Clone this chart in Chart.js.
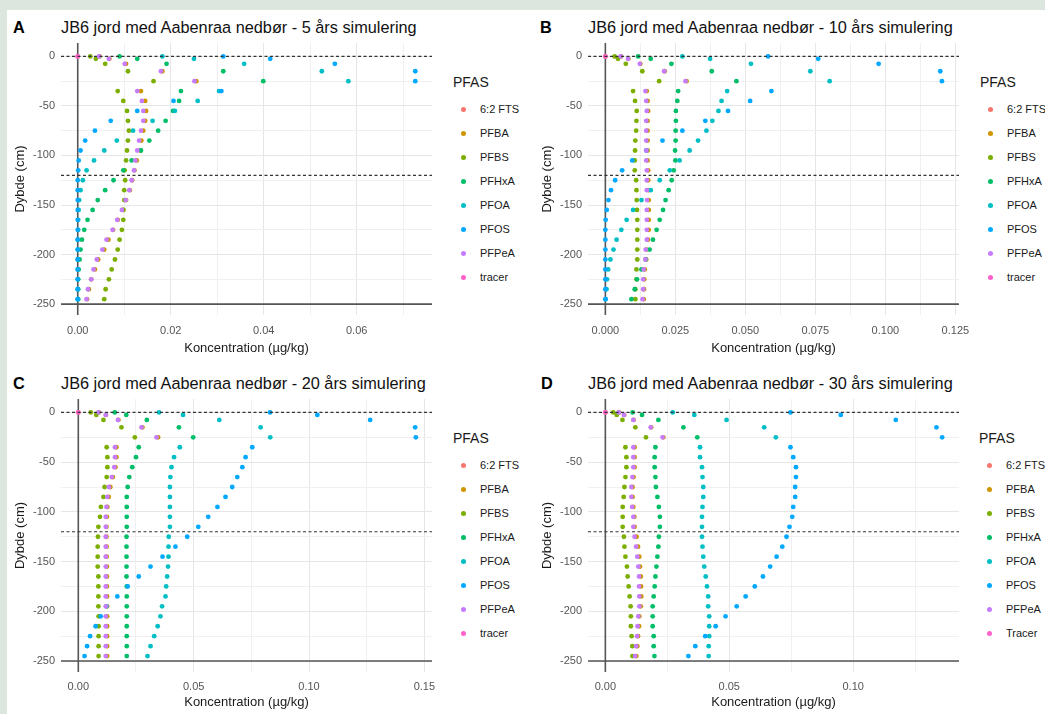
<!DOCTYPE html>
<html>
<head>
<meta charset="utf-8">
<script src="https://cdn.jsdelivr.net/npm/chart.js@4.4.1/dist/chart.umd.min.js"></script>
<style>
html, body { margin: 0; padding: 0; overflow: hidden; }
body { width: 1045px; height: 714px; background: #dde6de; font-family: 'Liberation Sans', Arial, sans-serif; position: relative; }
#page { position: absolute; left: 7px; top: 10px; width: 1038px; height: 704px; background: #fff; }
.abs { position: absolute; white-space: nowrap; }
canvas { position: absolute; }
.letter { font-size: 16.3px; font-weight: bold; color: #000; line-height: 18px; }
.title { font-size: 16.3px; color: #111; line-height: 18px; }
.leg-title { font-size: 14px; color: #1a1a1a; line-height: 16px; }
.leg-item { font-size: 11px; color: #1a1a1a; line-height: 14px; }
.leg-dot { width: 5px; height: 5px; border-radius: 50%; }
</style>
</head>
<body>
<div id="page"></div>
<script>
// Depth of each simulated layer (cm)
const depths = [0, -2.5, -7.5, -15, -25, -35, -45, -55, -65, -75, -85, -95, -105, -115, -125,
    -135, -145, -155, -165, -175, -185, -195, -205, -215, -225, -235, -245];

const seriesNames = ['6:2 FTS', 'PFBA', 'PFBS', 'PFHxA', 'PFOA', 'PFOS', 'PFPeA', 'tracer'];
const seriesNamesD = ['6:2 FTS', 'PFBA', 'PFBS', 'PFHxA', 'PFOA', 'PFOS', 'PFPeA', 'Tracer'];
const colors = ['#F8766D', '#CD9600', '#7CAE00', '#00BE67', '#00BFC4', '#00A9FF', '#C77CFF', '#FF61CC'];

// 6:2 FTS and tracer only show at the surface
const surfaceDepth = [0];
const ftsConc = [0];
const tracerConc = [0];

// 5 years
const pfba5 = [0.0047, 0.0068, 0.0104, 0.0182, 0.0255, 0.0136, 0.0145, 0.0147, 0.0145, 0.0141, 0.0137, 0.0135, 0.0127, 0.0122, 0.0117, 0.0112, 0.0104, 0.0098, 0.0086, 0.0076, 0.0066, 0.0057, 0.0044, 0.0037, 0.0029, 0.0024, 0.0020];
const pfbs5 = [0.0027, 0.0039, 0.0059, 0.0108, 0.0163, 0.0086, 0.0098, 0.0106, 0.0108, 0.0110, 0.0108, 0.0106, 0.0104, 0.0101, 0.0102, 0.0100, 0.0100, 0.0098, 0.0098, 0.0095, 0.0090, 0.0086, 0.0080, 0.0073, 0.0067, 0.0060, 0.0057];
const pfhxa5 = [0.0090, 0.0128, 0.0191, 0.0313, 0.0399, 0.0222, 0.0218, 0.0205, 0.0189, 0.0173, 0.0154, 0.0136, 0.0116, 0.0098, 0.0077, 0.0059, 0.0043, 0.0032, 0.0021, 0.0014, 0.0009, 0.0006, 0.0004, 0.0002, 0.0001, 0.0001, 0.0001];
const pfoa5 = [0.0182, 0.0250, 0.0358, 0.0525, 0.0582, 0.0304, 0.0258, 0.0209, 0.0161, 0.0119, 0.0084, 0.0057, 0.0035, 0.0019, 0.0011, 0.0006, 0.0003, 0.0002, 0.0001, 0.0001, 0, 0, 0, 0, 0, 0, 0];
const pfos5 = [0.0313, 0.0414, 0.0553, 0.0726, 0.0726, 0.0309, 0.0206, 0.0128, 0.0071, 0.0037, 0.0016, 0.0006, 0.0002, 0.0001, 0, 0, 0, 0, 0, 0, 0, 0, 0, 0, 0, 0, 0];
const pfpea5 = [0.0046, 0.0067, 0.0101, 0.0179, 0.0251, 0.0128, 0.0138, 0.0141, 0.0141, 0.0136, 0.0132, 0.0128, 0.0124, 0.0121, 0.0116, 0.0111, 0.0103, 0.0095, 0.0085, 0.0075, 0.0062, 0.0053, 0.0041, 0.0034, 0.0029, 0.0022, 0.0019];

// 10 years
const pfba10 = [0.0056, 0.0082, 0.0125, 0.0212, 0.0290, 0.0148, 0.0151, 0.0153, 0.0151, 0.0151, 0.0151, 0.0151, 0.0151, 0.0153, 0.0153, 0.0154, 0.0155, 0.0155, 0.0155, 0.0155, 0.0152, 0.0147, 0.0146, 0.0141, 0.0139, 0.0138, 0.0137];
const pfbs10 = [0.0033, 0.0045, 0.0073, 0.0132, 0.0192, 0.0099, 0.0106, 0.0112, 0.0111, 0.0110, 0.0107, 0.0106, 0.0105, 0.0105, 0.0110, 0.0111, 0.0112, 0.0113, 0.0114, 0.0114, 0.0114, 0.0114, 0.0114, 0.0111, 0.0111, 0.0107, 0.0107];
const pfhxa10 = [0.0117, 0.0162, 0.0236, 0.0380, 0.0468, 0.0260, 0.0257, 0.0252, 0.0252, 0.0251, 0.0251, 0.0249, 0.0250, 0.0244, 0.0237, 0.0226, 0.0215, 0.0206, 0.0194, 0.0183, 0.0170, 0.0158, 0.0144, 0.0129, 0.0113, 0.0105, 0.0093];
const pfoa10 = [0.0275, 0.0374, 0.0520, 0.0732, 0.0801, 0.0435, 0.0415, 0.0404, 0.0382, 0.0361, 0.0331, 0.0301, 0.0265, 0.0230, 0.0194, 0.0162, 0.0129, 0.0099, 0.0076, 0.0057, 0.0040, 0.0029, 0.0018, 0.0010, 0.0006, 0.0004, 0.0001];
const pfos10 = [0.0581, 0.0760, 0.0976, 0.1196, 0.1202, 0.0593, 0.0517, 0.0438, 0.0357, 0.0275, 0.0204, 0.0146, 0.0096, 0.0060, 0.0035, 0.0020, 0.0011, 0.0005, 0.0001, 0, 0, 0, 0, 0, 0, 0, 0];
const pfpea10 = [0.0055, 0.0081, 0.0123, 0.0210, 0.0286, 0.0143, 0.0146, 0.0148, 0.0146, 0.0146, 0.0146, 0.0146, 0.0146, 0.0148, 0.0148, 0.0148, 0.0149, 0.0148, 0.0148, 0.0148, 0.0148, 0.0144, 0.0143, 0.0137, 0.0135, 0.0135, 0.0133];

// 20 years
const pfba20 = [0.0089, 0.0120, 0.0174, 0.0278, 0.0346, 0.0165, 0.0165, 0.0161, 0.0150, 0.0139, 0.0132, 0.0126, 0.0124, 0.0122, 0.0122, 0.0123, 0.0123, 0.0124, 0.0124, 0.0124, 0.0125, 0.0125, 0.0125, 0.0125, 0.0125, 0.0125, 0.0125];
const pfbs20 = [0.0054, 0.0078, 0.0109, 0.0187, 0.0245, 0.0123, 0.0126, 0.0126, 0.0123, 0.0114, 0.0109, 0.0098, 0.0094, 0.0087, 0.0085, 0.0084, 0.0084, 0.0084, 0.0087, 0.0087, 0.0087, 0.0087, 0.0088, 0.0088, 0.0088, 0.0088, 0.0088];
const pfhxa20 = [0.0158, 0.0208, 0.0297, 0.0436, 0.0498, 0.0262, 0.0250, 0.0234, 0.0221, 0.0214, 0.0210, 0.0210, 0.0210, 0.0210, 0.0209, 0.0209, 0.0209, 0.0209, 0.0209, 0.0210, 0.0210, 0.0210, 0.0210, 0.0210, 0.0210, 0.0210, 0.0210];
const pfoa20 = [0.0350, 0.0454, 0.0611, 0.0790, 0.0832, 0.0440, 0.0415, 0.0404, 0.0399, 0.0397, 0.0397, 0.0397, 0.0397, 0.0397, 0.0392, 0.0391, 0.0391, 0.0389, 0.0385, 0.0381, 0.0378, 0.0363, 0.0356, 0.0344, 0.0329, 0.0313, 0.0300];
const pfos20 = [0.0831, 0.1036, 0.1265, 0.1460, 0.1463, 0.0754, 0.0725, 0.0711, 0.0689, 0.0667, 0.0638, 0.0603, 0.0563, 0.0520, 0.0472, 0.0421, 0.0365, 0.0313, 0.0262, 0.0214, 0.0169, 0.0122, 0.0097, 0.0075, 0.0051, 0.0038, 0.0027];
const pfpea20 = [0.0088, 0.0119, 0.0172, 0.0274, 0.0339, 0.0159, 0.0159, 0.0156, 0.0145, 0.0133, 0.0126, 0.0122, 0.0119, 0.0119, 0.0119, 0.0119, 0.0119, 0.0119, 0.0119, 0.0119, 0.0119, 0.0119, 0.0119, 0.0119, 0.0119, 0.0119, 0.0119];

// 30 years
const pfba30 = [0.0055, 0.0076, 0.0114, 0.0185, 0.0234, 0.0118, 0.0118, 0.0118, 0.0114, 0.0110, 0.0110, 0.0113, 0.0117, 0.0118, 0.0126, 0.0132, 0.0137, 0.0140, 0.0143, 0.0144, 0.0145, 0.0143, 0.0137, 0.0136, 0.0132, 0.0129, 0.0125];
const pfbs30 = [0.0032, 0.0046, 0.0069, 0.0121, 0.0164, 0.0081, 0.0085, 0.0085, 0.0081, 0.0077, 0.0074, 0.0070, 0.0070, 0.0070, 0.0075, 0.0077, 0.0081, 0.0087, 0.0090, 0.0094, 0.0098, 0.0102, 0.0103, 0.0103, 0.0106, 0.0109, 0.0109];
const pfhxa30 = [0.0110, 0.0148, 0.0214, 0.0315, 0.0371, 0.0202, 0.0199, 0.0199, 0.0202, 0.0204, 0.0210, 0.0216, 0.0220, 0.0220, 0.0216, 0.0214, 0.0210, 0.0206, 0.0202, 0.0199, 0.0195, 0.0191, 0.0191, 0.0191, 0.0195, 0.0195, 0.0198];
const pfoa30 = [0.0272, 0.0359, 0.0489, 0.0641, 0.0688, 0.0382, 0.0382, 0.0390, 0.0392, 0.0395, 0.0395, 0.0392, 0.0390, 0.0390, 0.0390, 0.0392, 0.0395, 0.0399, 0.0405, 0.0410, 0.0415, 0.0415, 0.0419, 0.0419, 0.0419, 0.0417, 0.0417];
const pfos30 = [0.0747, 0.0950, 0.1172, 0.1336, 0.1359, 0.0747, 0.0758, 0.0769, 0.0769, 0.0766, 0.0766, 0.0758, 0.0754, 0.0743, 0.0731, 0.0714, 0.0691, 0.0665, 0.0636, 0.0603, 0.0566, 0.0530, 0.0485, 0.0445, 0.0403, 0.0363, 0.0335];
const pfpea30 = [0.0054, 0.0075, 0.0113, 0.0183, 0.0231, 0.0113, 0.0113, 0.0113, 0.0109, 0.0105, 0.0105, 0.0108, 0.0113, 0.0113, 0.0118, 0.0124, 0.0129, 0.0133, 0.0136, 0.0136, 0.0137, 0.0137, 0.0133, 0.0130, 0.0128, 0.0124, 0.0120];

// Reference lines
const dashedDepths = [0, -120];
const bottomDepth = -250;

// Ticks (empty label = minor grid line)
const yTicks = [-250, -225, -200, -175, -150, -125, -100, -75, -50, -25, 0];
const yLabels = ['-250', '', '-200', '', '-150', '', '-100', '', '-50', '', '0'];
const xTicks5 = [0, 0.01, 0.02, 0.03, 0.04, 0.05, 0.06, 0.07];
const xLabels5 = ['0.00', '', '0.02', '', '0.04', '', '0.06', ''];
const xTicks10 = [0, 0.0125, 0.025, 0.0375, 0.05, 0.0625, 0.075, 0.0875, 0.1, 0.1125, 0.125];
const xLabels10 = ['0.000', '', '0.025', '', '0.050', '', '0.075', '', '0.100', '', '0.125'];
const xTicks20 = [0, 0.025, 0.05, 0.075, 0.1, 0.125, 0.15];
const xLabels20 = ['0.00', '', '0.05', '', '0.10', '', '0.15'];
const xTicks30 = [0, 0.025, 0.05, 0.075, 0.1, 0.125];
const xLabels30 = ['0.00', '', '0.05', '', '0.10', ''];

const gridMajor = '#e6e6e6';
const gridMinor = '#f0f0f0';

Chart.defaults.font.family = "'Liberation Sans', Arial, sans-serif";

function addText(cls, text, left, top) {
    const el = document.createElement('div');
    el.className = 'abs ' + cls;
    el.textContent = text;
    el.style.left = left + 'px';
    el.style.top = top + 'px';
    document.body.appendChild(el);
    return el;
}

// Legend built from the series names and colours
function createLegend(names, x, y) {
    addText('leg-title', 'PFAS', x, y - 8);
    names.forEach((name, i) => {
        const cy = y + 27 + i * 24;
        const dot = addText('leg-dot', '', x + 8, cy - 2.5);
        dot.style.background = colors[i];
        addText('leg-item', name, x + 27, cy - 7);
    });
}

function toPoints(conc, depth) {
    return conc.map((c, i) => ({ x: c, y: depth[i] }));
}

function refLine(points, color, width, dash, order) {
    return {
        data: points,
        showLine: true,
        borderColor: color,
        borderWidth: width,
        borderDash: dash,
        pointRadius: 0,
        fill: false,
        order: order
    };
}

function createPanel(p) {
    addText('letter', p.letter, p.letterX, p.titleY);
    addText('title', p.title, p.titleX, p.titleY);

    const canvas = document.createElement('canvas');
    canvas.width = 439;
    canvas.height = p.height;
    canvas.style.left = p.left + 'px';
    canvas.style.top = p.top + 'px';
    document.body.appendChild(canvas);

    const series = [
        [ftsConc, surfaceDepth], [p.pfba, depths], [p.pfbs, depths], [p.pfhxa, depths],
        [p.pfoa, depths], [p.pfos, depths], [p.pfpea, depths], [tracerConc, surfaceDepth]
    ];

    const datasets = series.map((s, i) => ({
        label: p.names[i],
        data: toPoints(s[0], s[1]),
        backgroundColor: colors[i],
        borderColor: colors[i],
        pointRadius: 2.4,
        pointBorderWidth: 0,
        order: 20 - i
    }));

    // x = 0 and y = -250 axis lines, dashed layer boundaries on top
    datasets.push(refLine([{ x: 0, y: p.yMin }, { x: 0, y: p.yMax }], '#555', 1.6, [], 40));
    datasets.push(refLine([{ x: p.xMin, y: bottomDepth }, { x: p.xMax, y: bottomDepth }], '#555', 1.6, [], 40));
    dashedDepths.forEach(d => {
        datasets.push(refLine([{ x: p.xMin, y: d }, { x: p.xMax, y: d }], '#333', 1.2, [3, 2.5], 0));
    });

    new Chart(canvas, {
        type: 'scatter',
        data: { datasets: datasets },
        options: {
            responsive: false,
            animation: false,
            devicePixelRatio: 1,
            events: [],
            layout: { padding: { top: 5, right: 14, bottom: 0, left: 0 } },
            plugins: { legend: { display: false }, tooltip: { enabled: false } },
            scales: {
                x: {
                    type: 'linear',
                    min: p.xMin,
                    max: p.xMax,
                    afterBuildTicks: s => { s.ticks = p.xTicks.map(v => ({ value: v })); },
                    afterFit: s => { s.height = p.axisH; s.paddingLeft = 0; s.paddingRight = 0; },
                    ticks: {
                        autoSkip: false, maxRotation: 0, padding: p.tickPad,
                        color: '#555', font: { size: 11 },
                        callback: (v, i) => p.xLabels[i]
                    },
                    grid: {
                        drawTicks: false,
                        color: ctx => p.xLabels[ctx.index] ? gridMajor : gridMinor
                    },
                    border: { display: false },
                    title: {
                        display: true, text: 'Koncentration (µg/kg)', color: '#1a1a1a',
                        font: { size: 13 }, padding: { top: 0, bottom: 4 }
                    }
                },
                y: {
                    type: 'linear',
                    min: p.yMin,
                    max: p.yMax,
                    afterBuildTicks: s => { s.ticks = yTicks.map(v => ({ value: v })); },
                    afterFit: s => { s.width = 54; s.paddingTop = 0; s.paddingBottom = 0; },
                    ticks: {
                        autoSkip: false, padding: 6, color: '#555', font: { size: 11 },
                        callback: (v, i) => yLabels[i]
                    },
                    grid: {
                        drawTicks: false,
                        color: ctx => yLabels[ctx.index] ? gridMajor : gridMinor
                    },
                    border: { display: false },
                    title: {
                        display: true, text: 'Dybde (cm)', color: '#1a1a1a',
                        font: { size: 13 }, padding: { top: 6, bottom: 0 }
                    }
                }
            }
        }
    });

    createLegend(p.names, p.legX, p.legY);
}

function init() {
    createPanel({
        letter: 'A', title: 'JB6 jord med Aabenraa nedbør - 5 års simulering',
        letterX: 13, titleX: 61, titleY: 18,
        left: 7, top: 38, height: 322, axisH: 45, tickPad: 9,
        xMin: -0.0036, xMax: 0.0762, yMin: -261, yMax: 13.5,
        xTicks: xTicks5, xLabels: xLabels5,
        pfba: pfba5, pfbs: pfbs5, pfhxa: pfhxa5, pfoa: pfoa5, pfos: pfos5, pfpea: pfpea5,
        names: seriesNames, legX: 453, legY: 82
    });
    createPanel({
        letter: 'B', title: 'JB6 jord med Aabenraa nedbør - 10 års simulering',
        letterX: 540, titleX: 588, titleY: 18,
        left: 534, top: 38, height: 322, axisH: 45, tickPad: 9,
        xMin: -0.0062, xMax: 0.1263, yMin: -261, yMax: 13.5,
        xTicks: xTicks10, xLabels: xLabels10,
        pfba: pfba10, pfbs: pfbs10, pfhxa: pfhxa10, pfoa: pfoa10, pfos: pfos10, pfpea: pfpea10,
        names: seriesNames, legX: 980, legY: 82
    });
    createPanel({
        letter: 'C', title: 'JB6 jord med Aabenraa nedbør - 20 års simulering',
        letterX: 13, titleX: 61, titleY: 374,
        left: 7, top: 394, height: 320, axisH: 42, tickPad: 8,
        xMin: -0.0075, xMax: 0.1533, yMin: -261, yMax: 13.5,
        xTicks: xTicks20, xLabels: xLabels20,
        pfba: pfba20, pfbs: pfbs20, pfhxa: pfhxa20, pfoa: pfoa20, pfos: pfos20, pfpea: pfpea20,
        names: seriesNames, legX: 453, legY: 438
    });
    createPanel({
        letter: 'D', title: 'JB6 jord med Aabenraa nedbør - 30 års simulering',
        letterX: 541, titleX: 588, titleY: 374,
        left: 534, top: 394, height: 320, axisH: 42, tickPad: 8,
        xMin: -0.0070, xMax: 0.1427, yMin: -261, yMax: 13.5,
        xTicks: xTicks30, xLabels: xLabels30,
        pfba: pfba30, pfbs: pfbs30, pfhxa: pfhxa30, pfoa: pfoa30, pfos: pfos30, pfpea: pfpea30,
        names: seriesNamesD, legX: 979, legY: 438
    });
}

document.addEventListener('DOMContentLoaded', init);
</script>
</body>
</html>
